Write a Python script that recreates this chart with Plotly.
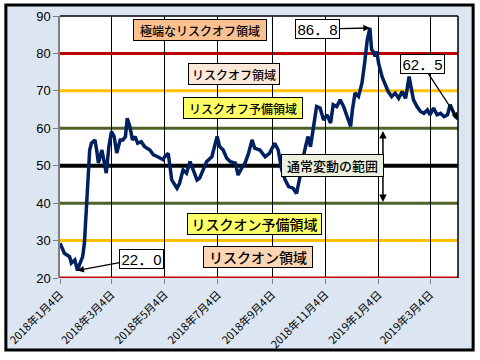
import plotly.graph_objects as go

# ---- data ----
dates = [
    "2018-01-04", "2018-01-09", "2018-01-15", "2018-01-17", "2018-01-21", "2018-01-24",
    "2018-01-27", "2018-01-30", "2018-02-01", "2018-02-03", "2018-02-05", "2018-02-07",
    "2018-02-09", "2018-02-13", "2018-02-15", "2018-02-17", "2018-02-21", "2018-02-24",
    "2018-02-26", "2018-03-01", "2018-03-04", "2018-03-07", "2018-03-10", "2018-03-14",
    "2018-03-17", "2018-03-20", "2018-03-22", "2018-03-25", "2018-03-28", "2018-03-31",
    "2018-04-03", "2018-04-07", "2018-04-11", "2018-04-17", "2018-04-21", "2018-04-26",
    "2018-05-02", "2018-05-04", "2018-05-08", "2018-05-10", "2018-05-12", "2018-05-18",
    "2018-05-21", "2018-05-25", "2018-05-29", "2018-06-02", "2018-06-06", "2018-06-10",
    "2018-06-13", "2018-06-17", "2018-06-21", "2018-06-27", "2018-07-01", "2018-07-03",
    "2018-07-06", "2018-07-10", "2018-07-14", "2018-07-18", "2018-07-24", "2018-07-27",
    "2018-07-31", "2018-08-04", "2018-08-08", "2018-08-12", "2018-08-15", "2018-08-21",
    "2018-08-27", "2018-09-01", "2018-09-07", "2018-09-11", "2018-09-15", "2018-09-19",
    "2018-09-23", "2018-09-28", "2018-10-02", "2018-10-06", "2018-10-08", "2018-10-12",
    "2018-10-15", "2018-10-18", "2018-10-21", "2018-10-25", "2018-10-29", "2018-11-02",
    "2018-11-06", "2018-11-10", "2018-11-13", "2018-11-17", "2018-11-21", "2018-11-25",
    "2018-11-29", "2018-12-03", "2018-12-05", "2018-12-08", "2018-12-12", "2018-12-16",
    "2018-12-19", "2018-12-22", "2018-12-25", "2018-12-27", "2018-12-29", "2018-12-31",
    "2019-01-02", "2019-01-04", "2019-01-08", "2019-01-12", "2019-01-15", "2019-01-19",
    "2019-01-23", "2019-01-27", "2019-01-31", "2019-02-04", "2019-02-08", "2019-02-10",
    "2019-02-13", "2019-02-17", "2019-02-21", "2019-02-25", "2019-03-01", "2019-03-04",
    "2019-03-08", "2019-03-12", "2019-03-16", "2019-03-20", "2019-03-24", "2019-03-27",
    "2019-03-30", "2019-04-02", "2019-04-05",
]
values = [
    29.3, 26.6, 25.7, 24.0, 24.8, 22.0,
    24.0, 25.7, 29.4, 38.2, 45.4, 54.2,
    56.0, 56.9, 54.2, 50.7, 54.2, 50.7,
    48.0, 55.1, 59.1, 57.8, 53.4, 56.9,
    56.9, 57.8, 62.7, 60.5, 56.9, 57.8,
    56.0, 56.4, 55.1, 54.2, 52.9, 52.4,
    51.6, 52.4, 53.3, 49.8, 46.2, 44.0,
    45.3, 48.9, 48.0, 51.1, 48.4, 46.2,
    46.7, 48.9, 51.1, 52.4, 56.0, 57.8,
    55.1, 54.2, 52.0, 51.1, 50.7, 47.5,
    49.3, 50.7, 53.3, 56.9, 54.7, 54.2,
    52.4, 53.3, 56.0, 54.2, 48.9, 46.2,
    44.4, 44.0, 42.6, 47.1, 50.7, 55.1,
    57.8, 55.1, 59.6, 65.8, 65.4, 62.2,
    63.6, 61.4, 66.3, 65.8, 67.6, 65.8,
    63.1, 60.5, 64.9, 69.4, 68.5, 72.1,
    77.4, 83.6, 86.8, 81.0, 80.5, 79.2,
    80.5, 77.4, 73.8, 71.2, 69.8, 68.5,
    69.4, 68.0, 69.8, 68.0, 73.8, 71.2,
    67.6, 65.8, 64.5, 64.0, 64.9, 63.6,
    65.4, 63.6, 64.0, 63.1, 63.6, 66.3,
    64.9, 63.1, 62.5,
]

tick_dates = ["2018-01-04", "2018-03-04", "2018-05-04", "2018-07-04",
              "2018-09-04", "2018-11-04", "2019-01-04", "2019-03-04"]
tick_labels = ["2018年1月4日", "2018年3月4日", "2018年5月4日", "2018年7月4日",
               "2018年9月4日", "2018年11月4日", "2019年1月4日", "2019年3月4日"]
y_ticks = [20, 30, 40, 50, 60, 70, 80, 90]

# threshold levels and their colours
levels = [80, 70, 60, 50, 40, 30]
level_colors = ["#c00000", "#ffc000", "#4f6228", "#000000", "#4f6228", "#ffc000"]
level_widths = [3, 3, 3, 4, 3, 3]

# zone labels: text, x (fraction of plot width), y value, fill, box width, font size
zones = [
    ("極端なリスクオフ領域", 0.352, 86.3, "#fac090", 130, 12),
    ("リスクオフ領域", 0.437, 74.5, "#fde9d9", 88, 12),
    ("リスクオフ予備領域", 0.460, 65.5, "#ffff66", 116, 12),
    ("リスクオン予備領域", 0.489, 34.4, "#ffff66", 131, 14),
    ("リスクオン領域", 0.497, 25.5, "#fcd5b4", 106, 14),
]

FONT_JP = "Noto Sans CJK JP"

fig = go.Figure()

fig.add_trace(go.Scatter(
    x=dates, y=values, mode="lines",
    line=dict(color="#002060", width=3.5),
    showlegend=False, hoverinfo="skip",
))

shapes = []
# outer light-blue frame with black border
shapes.append(dict(type="rect", xref="paper", yref="paper",
                   x0=-0.136, x1=1.038, y0=-0.275, y1=1.042,
                   fillcolor="#dce6f2", line=dict(color="black", width=3),
                   layer="below"))
# white plot area
shapes.append(dict(type="rect", xref="paper", yref="paper",
                   x0=0, x1=1, y0=0, y1=1,
                   fillcolor="white", line=dict(width=0), layer="below"))
# level lines
for lv, col, w in zip(levels, level_colors, level_widths):
    shapes.append(dict(type="line", xref="paper", yref="y", x0=0, x1=1, y0=lv, y1=lv,
                       line=dict(color=col, width=w), layer="below"))
# bottom (20) red line
shapes.append(dict(type="line", xref="paper", yref="y", x0=0, x1=1, y0=20, y1=20,
                   line=dict(color="#c00000", width=3), layer="above"))
# top and right border of plot area
shapes.append(dict(type="line", xref="paper", yref="paper", x0=0, x1=1, y0=1, y1=1,
                   line=dict(color="black", width=1.5), layer="above"))
shapes.append(dict(type="line", xref="paper", yref="paper", x0=1, x1=1, y0=0, y1=1,
                   line=dict(color="black", width=1.5), layer="above"))

annotations = []
for text, xp, yv, col, w, fs in zones:
    annotations.append(dict(
        xref="paper", yref="y", x=xp, y=yv, text=text, showarrow=False,
        font=dict(family=FONT_JP, size=fs, color="black", weight=500),
        bgcolor=col, bordercolor="black", borderwidth=1, borderpad=1,
        width=w, height=18,
    ))

# double-headed arrow for the normal range
annotations.append(dict(
    xref="x", yref="y", x="2019-01-09", y=40.3, ax="2019-01-09", ay=59.7,
    axref="x", ayref="y", text="", showarrow=True, arrowhead=2, startarrowhead=2,
    arrowside="end+start", arrowsize=1, arrowwidth=1.5, arrowcolor="black",
))
# box on top of the arrow
annotations.append(dict(
    xref="paper", yref="y", x=0.813, y=50.0, text="通常変動の範囲", showarrow=False,
    font=dict(family=FONT_JP, size=13, color="black", weight=500),
    bgcolor="#ebf1de", bordercolor="black", borderwidth=1, borderpad=1,
    width=99, height=19,
))

imax = values.index(max(values))
imin = values.index(min(values))
ilast = len(values) - 1

def num_label(i, ax, ay):
    return dict(
        xref="x", yref="y", x=dates[i], y=values[i],
        text=f"{values[i]:.1f}".replace(".", "．"),
        showarrow=True, arrowhead=2, arrowsize=1, arrowwidth=1.3, arrowcolor="black",
        ax=ax, ay=ay,
        font=dict(family="Liberation Sans, Noto Sans CJK JP", size=15, color="black"),
        bgcolor="white", bordercolor="black", borderwidth=1, borderpad=1,
        width=41, height=16,
    )

annotations.append(num_label(imax, -52, 1))
annotations.append(num_label(ilast, -36, -55))
annotations.append(num_label(imin, 64, -12))

fig.update_layout(
    width=480, height=360,
    margin=dict(l=60, r=22, t=16, b=82, autoexpand=False),
    paper_bgcolor="white", plot_bgcolor="white",
    shapes=shapes, annotations=annotations,
    showlegend=False,
    xaxis=dict(
        type="date", range=[dates[0], dates[-1]],
        tickvals=tick_dates, ticktext=tick_labels, tickangle=-45,
        tickfont=dict(family=FONT_JP, size=11, color="black"),
        showgrid=True, gridcolor="black", gridwidth=1,
        ticks="outside", ticklen=5, tickcolor="#808080",
        showline=False, zeroline=False, automargin=False,
    ),
    yaxis=dict(
        range=[20, 90], tickvals=y_ticks,
        tickfont=dict(family="Liberation Sans", size=13, color="black"),
        showgrid=False, zeroline=False, automargin=False,
        showline=True, linecolor="#808080", linewidth=1.5,
        ticks="outside", ticklen=5, tickcolor="#808080",
    ),
)

fig.write_html("out.html", config={"displayModeBar": False},
               post_script="document.body.style.margin='0';")
